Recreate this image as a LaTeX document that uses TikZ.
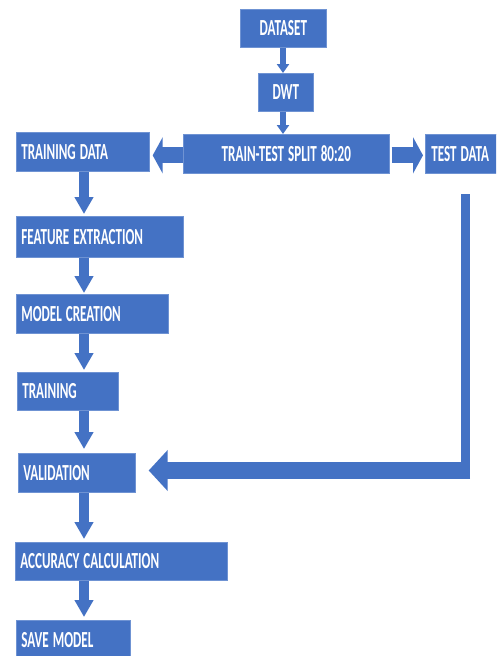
\documentclass[tikz,border=0pt]{standalone}
\usepackage{fontspec}
\newfontfamily\labfont{Carlito}[FakeStretch=0.57]
\usetikzlibrary{arrows.meta,calc}
\definecolor{office}{HTML}{4472C4}
\definecolor{officeedge}{HTML}{6F93D3}
\tikzset{
  blk/.style={fill=office, draw=officeedge, line width=0.7pt, text=white,
    font=\labfont\bfseries\fontsize{23}{25}\selectfont,
    execute at begin node={\spaceskip=4pt\relax},
    inner ysep=0pt, inner xsep=5pt, anchor=north west, align=left},
  midblk/.style={blk, align=center},
  thin arrow/.style={draw=office, line width=6pt,
    -{Triangle[length=9pt,width=12pt]}},
  down arrow/.style={draw=office, line width=10pt,
    -{Triangle[length=17pt,width=18pt]}},
  side arrow/.style={draw=office, line width=16pt,
    -{Triangle[length=10pt,width=36pt]}},
  back arrow/.style={draw=office, line width=17pt,
    -{Triangle[length=19pt,width=40pt]}},
}
\begin{document}
\begin{tikzpicture}[x=1pt,y=-1pt]
\useasboundingbox (0,0) rectangle (496,656);
\clip (0,0) rectangle (496,656);

% pipeline header
\node[midblk, text width=76pt, minimum height=38pt] (ds) at (240,9) {DATASET};
\node[midblk, text width=45pt, minimum height=38pt] (dwt) at (258,73) {DWT};
\node[midblk, text width=196pt, minimum height=39pt] (split) at (183,134) {TRAIN-TEST SPLIT 80:20};
\node[blk, inner xsep=6pt, text width=63pt, minimum height=39pt] (test) at (425,134) {TEST DATA};

% training branch
\node[blk, text width=123pt, minimum height=39pt] (td) at (16,132) {TRAINING DATA};
\node[blk, text width=157pt, minimum height=41pt] (fe) at (16,216) {FEATURE EXTRACTION};
\node[blk, text width=142pt, minimum height=39pt] (mc) at (16,294) {MODEL CREATION};
\node[blk, text width=91pt, minimum height=38pt] (tr) at (17,372) {TRAINING};
\node[blk, text width=107pt, minimum height=39pt] (val) at (18,453) {VALIDATION};
\node[blk, text width=202pt, minimum height=38pt] (acc) at (15,542) {ACCURACY CALCULATION};
\node[blk, text width=104pt, minimum height=40pt] (save) at (16,620) {SAVE MODEL};

% column of the down arrows
\coordinate (lc) at (84,0);
\coordinate (tc) at (283,0);

\draw[thin arrow] (ds.south -| tc) -- (dwt.north -| tc);
\draw[thin arrow] (dwt.south -| tc) -- (split.north -| tc);

\draw[side arrow, shorten >=3pt] ([yshift=-1.5pt]split.west) -- ([yshift=-1.5pt]split.west -| td.east);
\draw[side arrow, shorten <=2pt, shorten >=2pt] ([yshift=-1.5pt]split.east) -- ([yshift=-1.5pt]split.east -| test.west);

\draw[down arrow] (td.south -| lc) -- ([yshift=2pt]fe.north -| lc);
\draw[down arrow] (fe.south -| lc) -- ([yshift=1pt]mc.north -| lc);
\draw[down arrow] (mc.south -| lc) -- ([yshift=2pt]tr.north -| lc);
\draw[down arrow] (tr.south -| lc) -- ([yshift=4pt]val.north -| lc);
\draw[down arrow] (val.south -| lc) -- ([yshift=3pt]acc.north -| lc);
\draw[down arrow] (acc.south -| lc) -- ([yshift=3pt]save.north -| lc);

% test data fed back into validation
\coordinate (fbtop) at (465.5,194);
\coordinate (fbbottom) at (465.5,479);
\coordinate (fbbend) at (470,470.5);
\draw[draw=office, line width=9pt] (fbtop) -- (fbbottom);
\draw[back arrow, shorten >=13pt] (fbbend) -- (val.east |- fbbend);
\end{tikzpicture}
\end{document}
